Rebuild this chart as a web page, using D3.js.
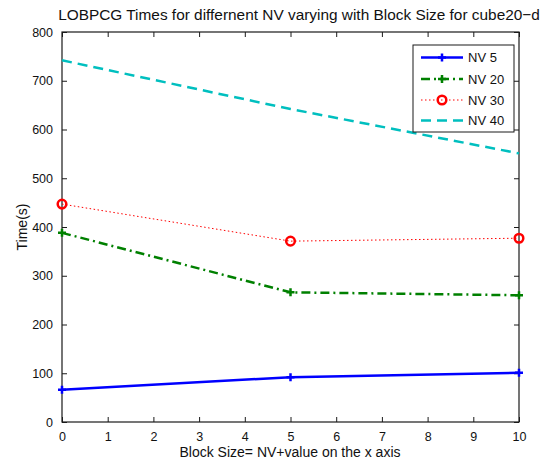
<!DOCTYPE html>
<html>
<head>
<meta charset="utf-8">
<script src="https://cdn.jsdelivr.net/npm/d3@7"></script>
<style>
  html, body { margin: 0; padding: 0; background: #fff; }
  svg { display: block; }
  text { font-family: "Liberation Sans", Arial, Helvetica, sans-serif; fill: #111; }
</style>
</head>
<body>
<svg id="chart" width="547" height="463"></svg>
<script>
// Block size offsets (x) and run times in seconds for each NV setting
const blockOffsets = [0, 5, 10];
const nv5  = [66, 92, 101];
const nv20 = [388, 266, 260];
const nv30 = [447, 371, 377];
const nv40 = [742, 642, 551];
const seriesNames = ["NV 5", "NV 20", "NV 30", "NV 40"];
const xTicks = [0, 1, 2, 3, 4, 5, 6, 7, 8, 9, 10];
const yTicks = [0, 100, 200, 300, 400, 500, 600, 700, 800];

(function () {
const svg = d3.select("#chart");
const m = { left: 62, right: 519, top: 32, bottom: 422 };

const x = d3.scaleLinear().domain([0, 10]).range([m.left, m.right]);
const y = d3.scaleLinear().domain([0, 800]).range([m.bottom, m.top]);

// axes box
svg.append("rect")
  .attr("x", m.left).attr("y", m.top)
  .attr("width", m.right - m.left).attr("height", m.bottom - m.top)
  .attr("fill", "#fff").attr("stroke", "#1a1a1a").attr("stroke-width", 1.2);

const tickLen = 5;
const axisFont = 12.5;

// bottom axis: inward ticks + labels
const axBottom = svg.append("g").attr("transform", `translate(0,${m.bottom})`)
  .call(d3.axisBottom(x).tickValues(xTicks).tickSize(-tickLen).tickPadding(tickLen + 5).tickFormat(d3.format("d")));
// top axis: ticks only
const axTop = svg.append("g").attr("transform", `translate(0,${m.top})`)
  .call(d3.axisTop(x).tickValues(xTicks).tickSize(-tickLen).tickFormat(""));
// left axis: inward ticks + labels
const axLeft = svg.append("g").attr("transform", `translate(${m.left},0)`)
  .call(d3.axisLeft(y).tickValues(yTicks).tickSize(-tickLen).tickPadding(tickLen + 4).tickFormat(d3.format("d")));
// right axis: ticks only
const axRight = svg.append("g").attr("transform", `translate(${m.right},0)`)
  .call(d3.axisRight(y).tickValues(yTicks).tickSize(-tickLen).tickFormat(""));

[axBottom, axTop, axLeft, axRight].forEach(g => {
  g.select(".domain").remove();
  g.selectAll(".tick line").attr("stroke", "#1a1a1a").attr("stroke-width", 1);
  g.selectAll(".tick text").attr("font-size", axisFont)
    .attr("font-family", "'Liberation Sans', Arial, sans-serif").attr("fill", "#111");
});

// series definitions
const series = [
  { name: seriesNames[0], values: nv5,  color: "#0000ff", width: 2.5, dash: null,       marker: "plus" },
  { name: seriesNames[1], values: nv20, color: "#008000", width: 2.5, dash: "9,4,2,4",  marker: "plus" },
  { name: seriesNames[2], values: nv30, color: "#ff0000", width: 1,   dash: "1.5,2.5",  marker: "circle" },
  { name: seriesNames[3], values: nv40, color: "#00bfbf", width: 2.5, dash: "10,6",     marker: null }
];

const line = d3.line().x((d, i) => x(blockOffsets[i])).y(d => y(d));

function drawMarker(g, kind, cx, cy, color) {
  if (kind === "plus") {
    g.append("path")
      .attr("d", `M${cx - 4},${cy}H${cx + 4}M${cx},${cy - 4}V${cy + 4}`)
      .attr("stroke", color).attr("stroke-width", 2.5).attr("fill", "none");
  } else if (kind === "circle") {
    g.append("circle").attr("cx", cx).attr("cy", cy).attr("r", 4.3)
      .attr("fill", "none").attr("stroke", color).attr("stroke-width", 2.5);
  }
}

const plot = svg.append("g");
series.forEach(s => {
  plot.append("path")
    .datum(s.values)
    .attr("d", line)
    .attr("fill", "none")
    .attr("stroke", s.color)
    .attr("stroke-width", s.width)
    .attr("stroke-dasharray", s.dash);
  if (s.marker) {
    s.values.forEach((v, i) => drawMarker(plot, s.marker, x(blockOffsets[i]), y(v), s.color));
  }
});

// legend
const lg = { x: 413, y: 45, w: 101, h: 87 };
const legend = svg.append("g");
legend.append("rect").attr("x", lg.x).attr("y", lg.y).attr("width", lg.w).attr("height", lg.h)
  .attr("fill", "#fff").attr("stroke", "#1a1a1a").attr("stroke-width", 1);
const rowY = [57.5, 79, 100, 120.5];
series.forEach((s, i) => {
  const yy = rowY[i];
  legend.append("line").attr("x1", 421).attr("x2", 463).attr("y1", yy).attr("y2", yy)
    .attr("stroke", s.color).attr("stroke-width", s.width).attr("stroke-dasharray", s.dash);
  if (s.marker) drawMarker(legend, s.marker, 442, yy, s.color);
  legend.append("text").attr("x", 468).attr("y", yy + 4.5)
    .attr("font-size", 13).text(s.name);
});

// title and axis labels
svg.append("text").attr("x", 299).attr("y", 20).attr("text-anchor", "middle")
  .attr("font-size", 15.4).text("LOBPCG Times for differnent NV varying with Block Size for cube20\u2212d");
svg.append("text").attr("x", 290).attr("y", 457).attr("text-anchor", "middle")
  .attr("font-size", 14).text("Block Size= NV+value on the x axis");
svg.append("text").attr("transform", "translate(27,227) rotate(-90)").attr("text-anchor", "middle")
  .attr("font-size", 14).text("Time(s)");
})();
</script>
</body>
</html>
